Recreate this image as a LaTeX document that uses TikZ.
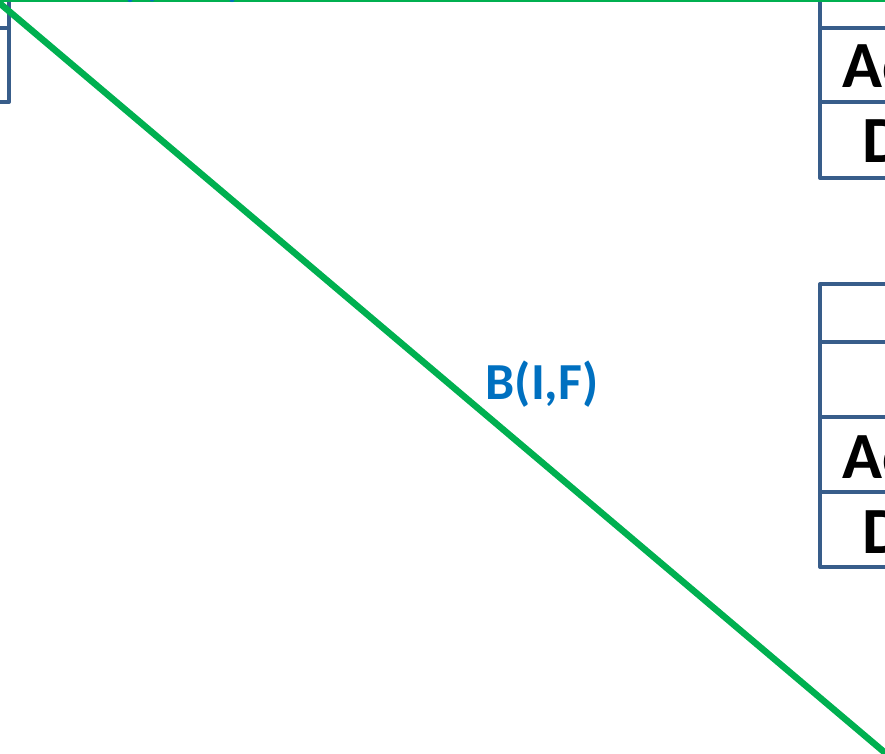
\documentclass[tikz,border=0pt]{standalone}
\usepackage{fontspec}
\setmainfont{Carlito}
\definecolor{tblue}{RGB}{56,93,138}
\definecolor{lgreen}{RGB}{0,176,80}
\definecolor{lblue}{RGB}{0,112,192}
\begin{document}
\begin{tikzpicture}[x=1pt,y=-1pt,
  tbl/.style={draw=tblue,line width=4pt,line join=round,line cap=round},
  cell/.style={font=\bfseries\fontsize{66}{66}\selectfont,text=black,inner sep=0pt,anchor=base west},
  elabel/.style={font=\bfseries\fontsize{52}{52}\selectfont,text=lblue,inner sep=0pt}]
\useasboundingbox (0,0) rectangle (885,753);
\clip (0,0) rectangle (885,753);
% top-left table fragment
\draw[tbl] (-10,28) -- (9,28);
\draw[tbl] (9,-10) -- (9,102) -- (-10,102);
% right table 1
\draw[tbl] (820,-10) -- (820,178) -- (900,178);
\draw[tbl] (820,28) -- (900,28);
\draw[tbl] (820,102) -- (900,102);
\node[cell] (t1a) at (842,87) {Ac};
\node[cell] (t1d) at (862,162) {D};
% right table 2
\draw[tbl] (900,284) -- (820,284) -- (820,567) -- (900,567);
\draw[tbl] (820,342) -- (900,342);
\draw[tbl] (820,417) -- (900,417);
\draw[tbl] (820,492) -- (900,492);
\node[cell] (t2a) at (842,478) {Ac};
\node[cell] (t2d) at (862,553) {D};
% green connectors
\coordinate (gs) at (-3,1);
\coordinate (ge) at (890,757);
\draw[lgreen,line width=3pt] (-5,0) -- (890,0);
\draw[lgreen,line width=6.5pt] (gs) -- (ge);
\node[elabel] (bif) at (542,384) {B(I,F)};
% clipped blue fragments of a label above
\fill[lblue] (130,0) ellipse (2.5 and 2);
\fill[lblue] (152,0) ellipse (2 and 1.5);
\fill[lblue] (232,0) ellipse (2.5 and 2);
\end{tikzpicture}
\end{document}
